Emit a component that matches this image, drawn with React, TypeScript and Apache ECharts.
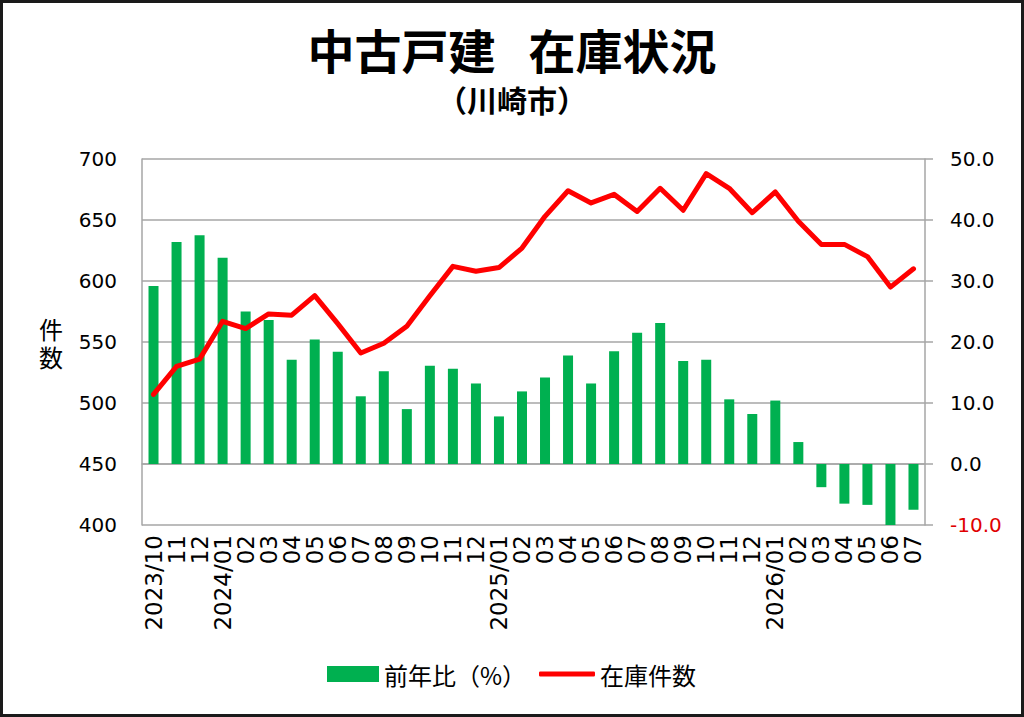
import { useEffect, useRef } from "react";
import * as echarts from "echarts";

const months = [
  "2023/10", "11", "12",
  "2024/01", "02", "03", "04", "05", "06", "07", "08", "09", "10", "11", "12",
  "2025/01", "02", "03", "04", "05", "06", "07", "08", "09", "10", "11", "12",
  "2026/01", "02", "03", "04", "05", "06", "07",
];

// 前年比（%）
const yoyRate = [
  29.2, 36.4, 37.5, 33.8, 25.0, 23.6, 17.1, 20.4, 18.4, 11.1, 15.2, 9.0,
  16.1, 15.6, 13.2, 7.8, 11.9, 14.2, 17.8, 13.2, 18.5, 21.5, 23.1, 16.9,
  17.1, 10.6, 8.2, 10.4, 3.6, -3.8, -6.5, -6.7, -10.2, -7.5,
];

// 在庫件数
const stockCount = [
  507, 530, 536, 567, 561, 573, 572, 588, 565, 541, 549, 563,
  588, 612, 608, 611, 627, 653, 674, 664, 671, 657, 676, 658,
  688, 676, 656, 673, 649, 630, 630, 620, 595, 610,
];

const JP = '"Noto Sans CJK JP", sans-serif';
const NUM = '"DejaVu Sans", sans-serif';
const GRID_COLOR = "#a6a6a6";

export default function App() {
  const ref = useRef<HTMLDivElement>(null);

  useEffect(() => {
    if (!ref.current) return;
    const chart = echarts.init(ref.current, undefined, { renderer: "svg" });

    const legendText = { fontFamily: JP, fontSize: 24, color: "#000" };

    chart.setOption({
      animation: false,
      backgroundColor: "#ffffff",
      title: [
        {
          text: "中古戸建\u2002\u2009在庫状況",
          left: "center",
          top: 22,
          padding: 0,
          textStyle: {
            fontFamily: JP,
            fontSize: 47,
            fontWeight: "bold",
            color: "#000",
            lineHeight: 52,
          },
        },
        {
          text: "（川崎市）",
          left: "center",
          top: 84,
          padding: 0,
          textStyle: { fontFamily: JP, fontSize: 30, fontWeight: "bold", color: "#000" },
        },
      ],
      legend: [
        {
          left: 327,
          top: 662,
          padding: 0,
          itemWidth: 52,
          itemHeight: 16,
          textStyle: legendText,
          data: [{ name: "前年比（%）", icon: "rect" }],
        },
        {
          left: 539,
          top: 662,
          padding: 0,
          itemWidth: 56,
          itemHeight: 5,
          textStyle: legendText,
          data: [{ name: "在庫件数", icon: "roundRect" }],
        },
      ],
      grid: { left: 142, right: 99, top: 159, bottom: 192 },
      xAxis: {
        type: "category",
        data: months,
        boundaryGap: true,
        axisLine: { show: true, lineStyle: { color: GRID_COLOR, width: 1.5 } },
        axisTick: { show: false },
        axisLabel: {
          interval: 0,
          rotate: 90,
          margin: 10,
          fontFamily: NUM,
          fontSize: 23,
          color: "#000",
        },
      },
      yAxis: [
        {
          type: "value",
          min: 400,
          max: 700,
          interval: 50,
          name: "件\n数",
          nameLocation: "middle",
          nameRotate: 0,
          nameGap: 79,
          nameTextStyle: { fontFamily: JP, fontSize: 24, color: "#000", lineHeight: 28 },
          axisLine: { show: true, lineStyle: { color: GRID_COLOR, width: 1.5 } },
          axisTick: { show: false },
          axisLabel: { margin: 25, fontFamily: NUM, fontSize: 20, color: "#000" },
          splitLine: { show: true, lineStyle: { color: GRID_COLOR, width: 1.5 } },
        },
        {
          type: "value",
          min: -10,
          max: 50,
          interval: 10,
          position: "right",
          axisLine: { show: true, lineStyle: { color: GRID_COLOR, width: 1.5 } },
          axisTick: { show: true, length: 8, lineStyle: { color: GRID_COLOR, width: 1.5 } },
          axisLabel: {
            margin: 25,
            fontFamily: NUM,
            fontSize: 20,
            formatter: (v: number) => v.toFixed(1),
            color: (v: any) => (Number(v) < 0 ? "#e00000" : "#000"),
          },
          splitLine: { show: false },
        },
      ],
      series: [
        {
          name: "前年比（%）",
          type: "bar",
          yAxisIndex: 1,
          data: yoyRate,
          barWidth: 10,
          itemStyle: { color: "#00b050" },
        },
        {
          name: "在庫件数",
          type: "line",
          yAxisIndex: 0,
          data: stockCount,
          symbol: "none",
          lineStyle: { color: "#ff0000", width: 5, join: "round", cap: "round" },
          itemStyle: { color: "#ff0000" },
        },
      ],
    });

    return () => chart.dispose();
  }, []);

  return (
    <div style={{ position: "fixed", left: 0, top: 0, width: 1024, height: 717 }}>
      <div ref={ref} style={{ position: "absolute", left: 0, top: 0, width: 1024, height: 717 }} />
      <div
        style={{
          position: "absolute",
          left: 0,
          top: 0,
          width: 1024,
          height: 717,
          boxSizing: "border-box",
          border: "3px solid #1a1a1a",
          pointerEvents: "none",
        }}
      />
    </div>
  );
}
